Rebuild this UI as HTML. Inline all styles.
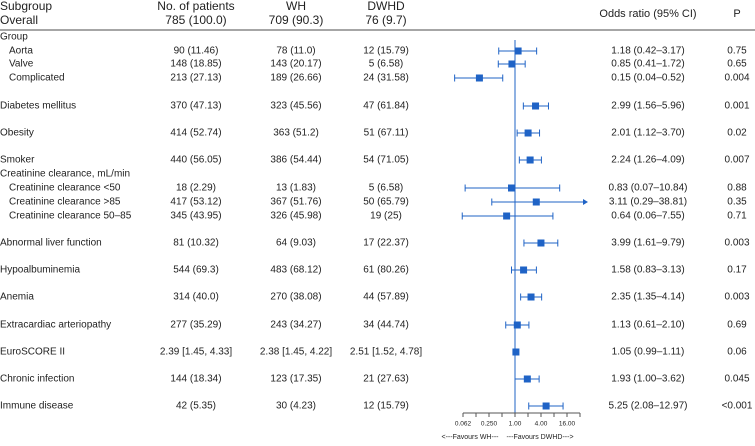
<!DOCTYPE html>
<html><head><meta charset="utf-8"><style>
body{margin:0;width:755px;height:441px;background:#fff;overflow:hidden;font-family:"Liberation Sans",sans-serif;color:#222}
svg text{font-family:"Liberation Sans",sans-serif}
</style></head><body>
<svg id="c" width="755" height="441"></svg>
<script>
const labels=["Aorta","Valve","Complicated","Diabetes mellitus","Obesity","Smoker","Creatinine clearance <50","Creatinine clearance >85","Creatinine clearance 50–85","Abnormal liver function","Hypoalbuminemia","Anemia","Extracardiac arteriopathy","EuroSCORE II","Chronic infection","Immune disease"];
const rowY=[51,64,78,106,133,160,188,202,216,243,270,297,325,352,379,406];
const indent=[1,1,1,0,0,0,1,1,1,0,0,0,0,0,0,0];
const nPatients=["90 (11.46)","148 (18.85)","213 (27.13)","370 (47.13)","414 (52.74)","440 (56.05)","18 (2.29)","417 (53.12)","345 (43.95)","81 (10.32)","544 (69.3)","314 (40.0)","277 (35.29)","2.39 [1.45, 4.33]","144 (18.34)","42 (5.35)"];
const whVals=["78 (11.0)","143 (20.17)","189 (26.66)","323 (45.56)","363 (51.2)","386 (54.44)","13 (1.83)","367 (51.76)","326 (45.98)","64 (9.03)","483 (68.12)","270 (38.08)","243 (34.27)","2.38 [1.45, 4.22]","123 (17.35)","30 (4.23)"];
const dwhdVals=["12 (15.79)","5 (6.58)","24 (31.58)","47 (61.84)","51 (67.11)","54 (71.05)","5 (6.58)","50 (65.79)","19 (25)","17 (22.37)","61 (80.26)","44 (57.89)","34 (44.74)","2.51 [1.52, 4.78]","21 (27.63)","12 (15.79)"];
const orVals=[1.18,0.85,0.15,2.99,2.01,2.24,0.83,3.11,0.64,3.99,1.58,2.35,1.13,1.05,1.93,5.25];
const ciLow=[0.42,0.41,0.04,1.56,1.12,1.26,0.07,0.29,0.06,1.61,0.83,1.35,0.61,0.99,1.00,2.08];
const ciHigh=[3.17,1.72,0.52,5.96,3.70,4.09,10.84,38.81,7.55,9.79,3.13,4.14,2.10,1.11,3.62,12.97];
const orText=["1.18 (0.42–3.17)","0.85 (0.41–1.72)","0.15 (0.04–0.52)","2.99 (1.56–5.96)","2.01 (1.12–3.70)","2.24 (1.26–4.09)","0.83 (0.07–10.84)","3.11 (0.29–38.81)","0.64 (0.06–7.55)","3.99 (1.61–9.79)","1.58 (0.83–3.13)","2.35 (1.35–4.14)","1.13 (0.61–2.10)","1.05 (0.99–1.11)","1.93 (1.00–3.62)","5.25 (2.08–12.97)"];
const pVals=["0.75","0.65","0.004","0.001","0.02","0.007","0.88","0.35","0.71","0.003","0.17","0.003","0.69","0.06","0.045","<0.001"];
const tickVals=[0.0625,0.25,1,4,16];
const tickLabels=["0.062","0.250","1.00","4.00","16.00"];

const svg=document.getElementById('c');
const NS="http://www.w3.org/2000/svg";
const X=v=>515+13*Math.log2(v);
const CLIP=32;
const XMAX=588;
const blue="#1f63c6";
function el(tag,attrs,txt){const e=document.createElementNS(NS,tag);for(const k in attrs)e.setAttribute(k,attrs[k]);if(txt!=null)e.textContent=txt;svg.appendChild(e);return e;}
function t(x,y,s,anchor,size,name){const e=el('text',{x:x,y:y,'font-size':size||10,'text-anchor':anchor||'start','dominant-baseline':'middle',fill:'#222'},s);

return e;}

t(0,7,"Subgroup","start",12,"header-subgroup");
t(0,21,"Overall","start",12,"header-overall");
t(196,7,"No. of patients","middle",12,"header-patients");
t(196,21,"785 (100.0)","middle",12,"overall-patients");
t(296,7,"WH","middle",12,"header-wh");
t(296,21,"709 (90.3)","middle",12,"overall-wh");
t(386,7,"DWHD","middle",12,"header-dwhd");
t(386,21,"76 (9.7)","middle",12,"overall-dwhd");
t(648,14,"Odds ratio (95% CI)","middle",11,"header-odds-ratio");
t(737,14,"P","middle",11,"header-p");
let hl=el('line',{x1:0,x2:755,y1:30,y2:30,stroke:'#888','stroke-width':1.5});


t(0,37,"Group","start",10,"group-heading");
t(0,174,"Creatinine clearance, mL/min","start",10,"creatinine-heading");

let rl=el('line',{x1:X(1),x2:X(1),y1:40,y2:413,stroke:blue,'stroke-width':1});



for(let i=0;i<labels.length;i++){
  const y=rowY[i];
  t(indent[i]?9:0,y,labels[i],"start",10,"row-label");
  t(196,y,nPatients[i],"middle",10,"patients-value");
  t(296,y,whVals[i],"middle",10,"wh-value");
  t(386,y,dwhdVals[i],"middle",10,"dwhd-value");
  t(648,y,orText[i],"middle",10,"or-text");
  t(737,y,pVals[i],"middle",10,"p-value");
  const x1=X(ciLow[i]);const arrow=ciHigh[i]>CLIP;const x2=arrow?XMAX:X(ciHigh[i]);
  const g=el('g',{});
  
  
  const mk=(tag,a)=>{const e=document.createElementNS(NS,tag);for(const k in a)e.setAttribute(k,a[k]);g.appendChild(e);};
  mk('line',{x1:x1,x2:arrow?x2-4:x2,y1:y,y2:y,stroke:blue,'stroke-width':1});
  mk('line',{x1:x1,x2:x1,y1:y-3.5,y2:y+3.5,stroke:blue,'stroke-width':1});
  if(arrow)mk('polygon',{points:`${x2},${y} ${x2-5},${y-3} ${x2-5},${y+3}`,fill:blue});
  else mk('line',{x1:x2,x2:x2,y1:y-3.5,y2:y+3.5,stroke:blue,'stroke-width':1});
  const cx=X(orVals[i]);
  mk('rect',{x:cx-3.5,y:y-3.5,width:7,height:7,fill:blue});
}

let ax=el('line',{x1:X(0.0625),x2:X(32),y1:413,y2:413,stroke:'#555','stroke-width':1});


for(let k=-4;k<=5;k++){let tk=el('line',{x1:X(2**k),x2:X(2**k),y1:413,y2:417,stroke:'#555','stroke-width':1});

}
for(let i=0;i<tickVals.length;i++)t(X(tickVals[i]),424,tickLabels[i],"middle",6.5,"x-tick-label");
t(470,437,"<---Favours WH---","middle",7,"favours-wh");
t(540,437,"---Favours DWHD--->","middle",7,"favours-dwhd");
</script>
</body></html>
